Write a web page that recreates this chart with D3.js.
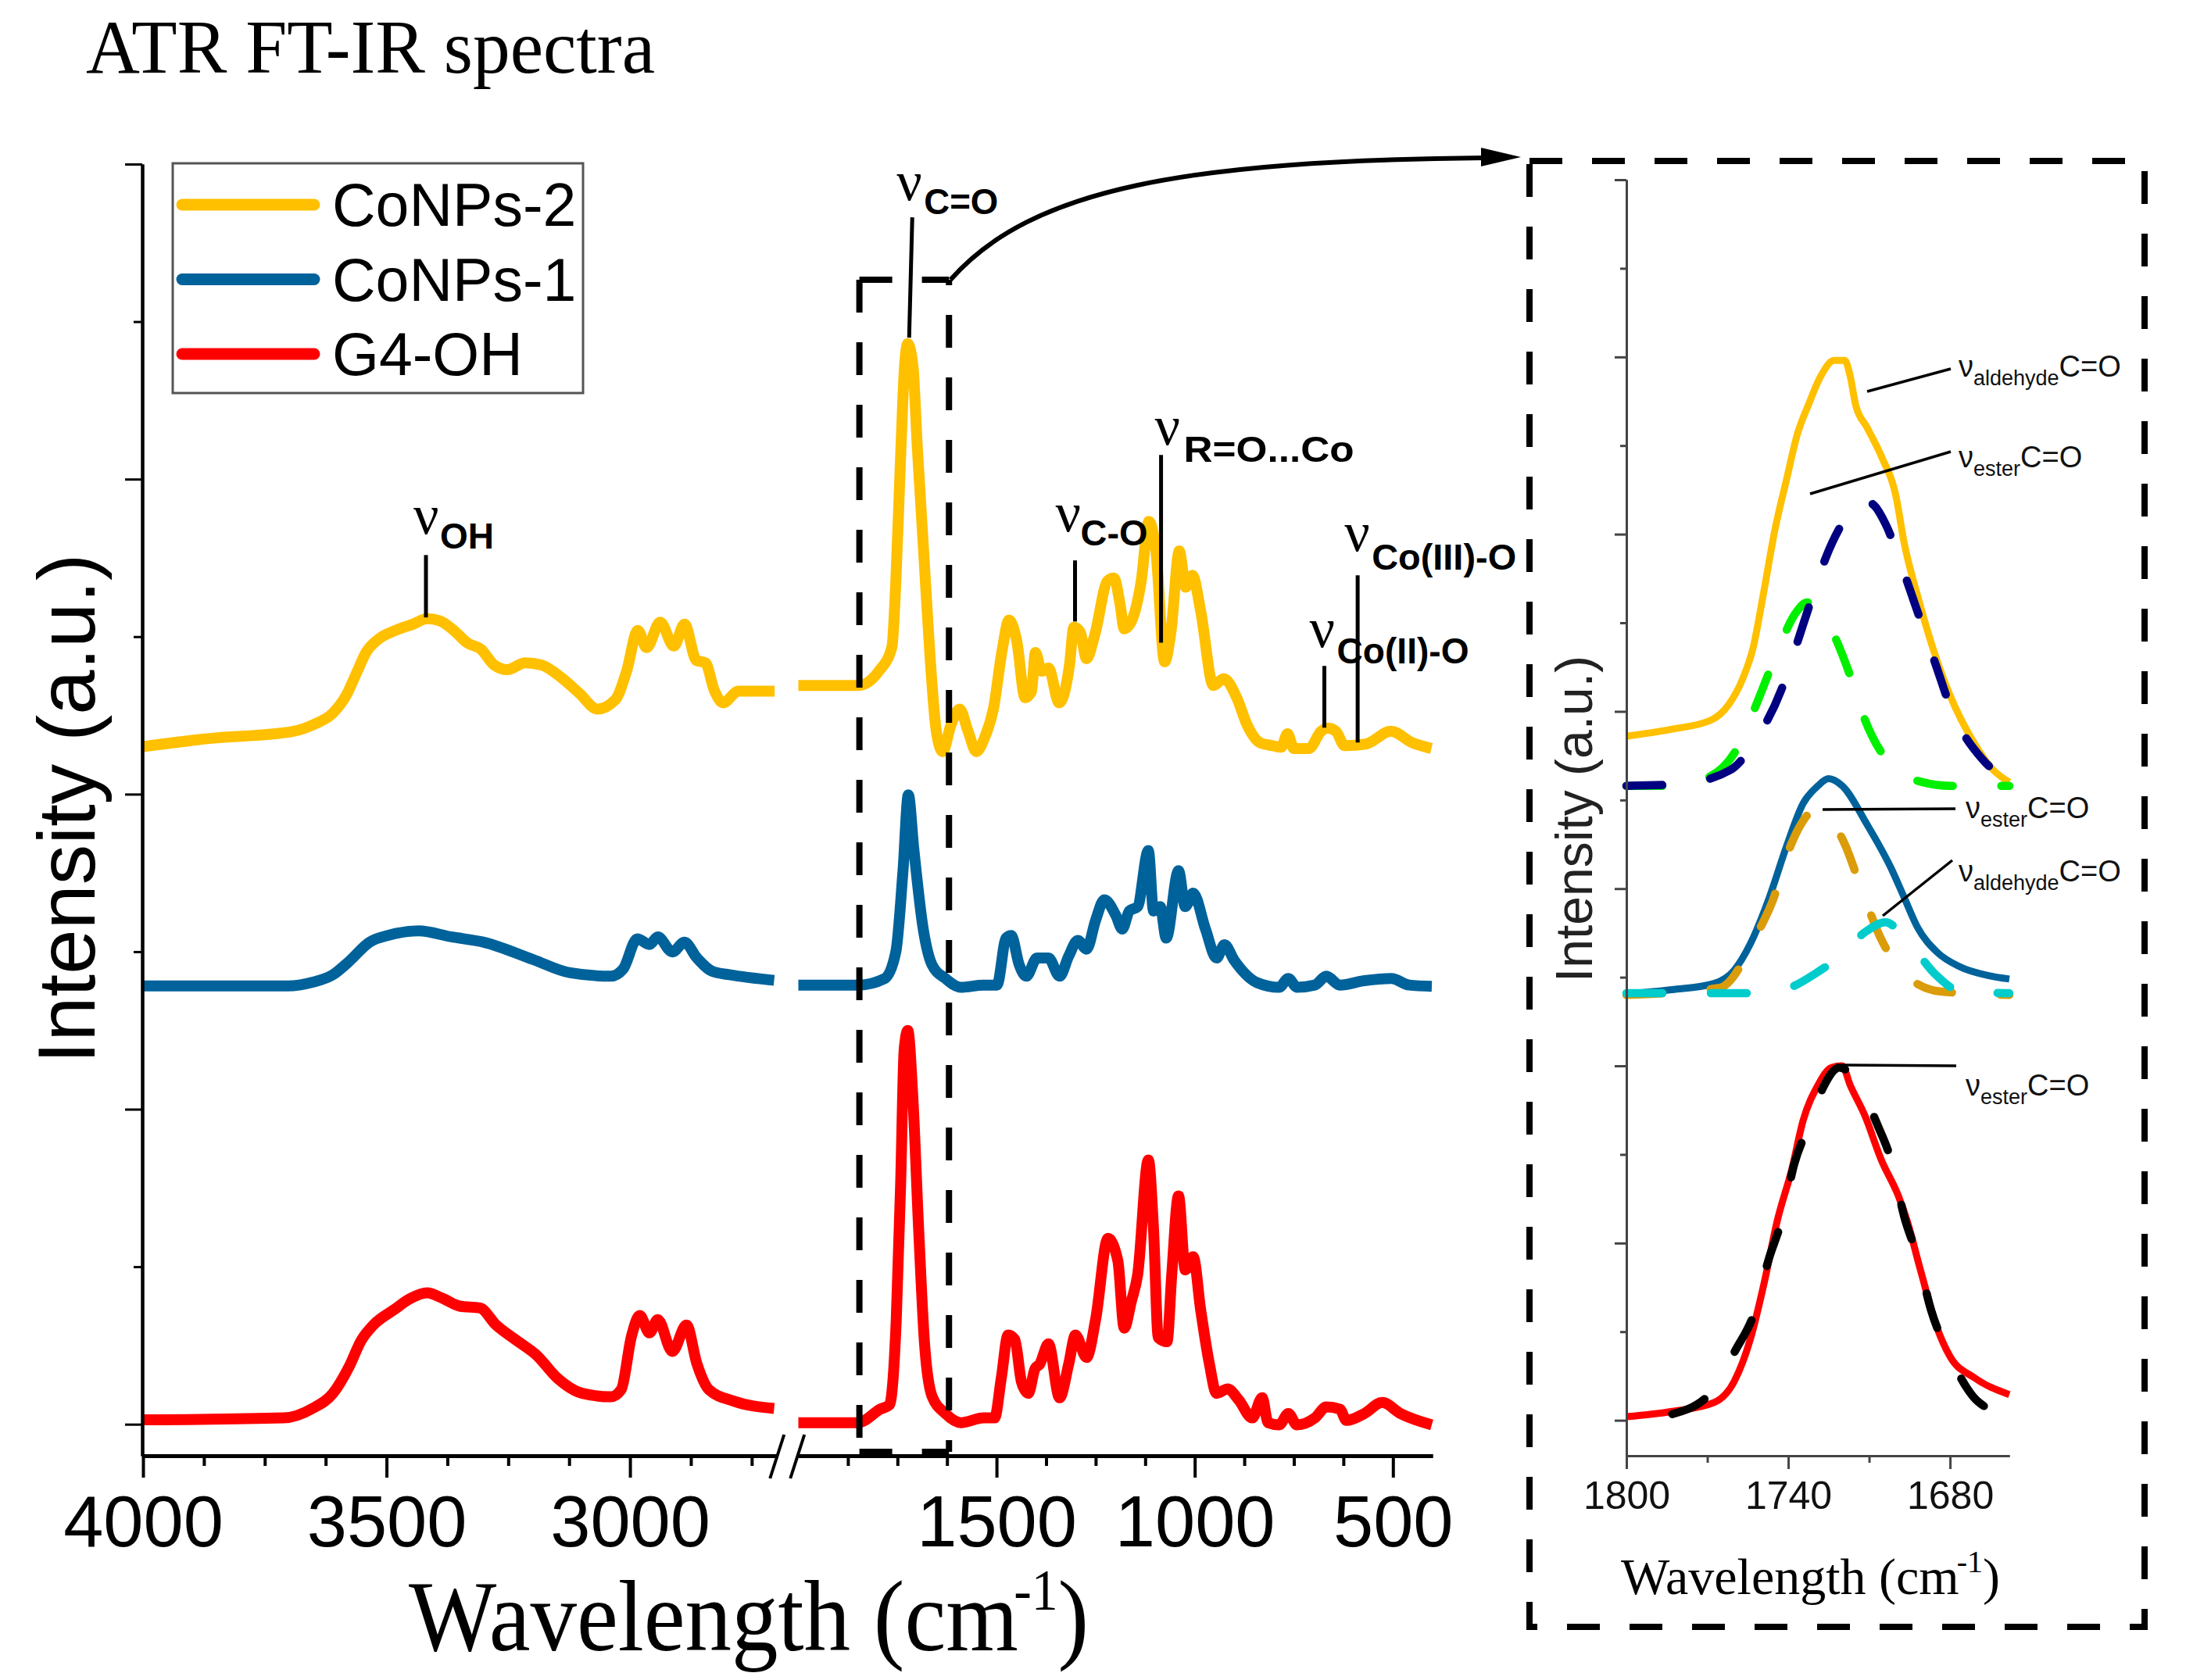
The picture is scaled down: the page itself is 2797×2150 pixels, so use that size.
<!DOCTYPE html>
<html><head><meta charset="utf-8">
<script src="https://cdn.jsdelivr.net/npm/d3@7"></script>
<style>body{margin:0;background:#fff}</style>
</head><body>
<svg id="c" width="2797" height="2150" xmlns="http://www.w3.org/2000/svg"></svg>
<script>
// ---------------- DATA ----------------
const titleText = "ATR FT-IR spectra";
const seriesNames = ["CoNPs-2", "CoNPs-1", "G4-OH"];
const seriesColors = ["#FFC000", "#00629B", "#FF0000"];

const xMajorLeft = [4000, 3500, 3000];
const xMinorLeft = [3875, 3750, 3625, 3375, 3250, 3125, 2875, 2750];
const xMajorRight = [1500, 1000, 500];
const xMinorRight = [1875, 1750, 1625, 1375, 1250, 1125, 875, 750, 625];
const yMajor = [0, 1, 2, 3, 4];
const yMinor = [0.5, 1.5, 2.5, 3.5];

const insetXMajor = [1800, 1740, 1680];
const insetXMinor = [1770, 1710];
const insetYMajor = [0, 1, 2, 3, 4, 5, 6, 7];
const insetYMinor = [0.5, 1.5, 2.5, 3.5, 4.5, 5.5, 6.5];

// CoNPs-2 (offset)
const conps2Left = [[4000,2.151],[3868,2.176],[3693,2.199],[3647,2.223],[3611,2.256],[3583,2.313],[3560,2.39],[3542,2.45],[3518,2.49],[3481,2.52],[3445,2.54],[3417,2.557],[3390,2.55],[3362,2.52],[3334,2.48],[3306,2.46],[3279,2.41],[3252,2.395],[3215,2.417],[3182,2.41],[3141,2.37],[3104,2.32],[3067,2.27],[3030,2.30],[3007,2.39],[2984,2.52],[2966,2.465],[2938,2.546],[2910,2.47],[2888,2.54],[2864,2.425],[2845,2.417],[2827,2.33],[2809,2.29],[2777,2.327],[2703,2.327]];
const conps2Right = [[2000,2.345],[1849,2.345],[1796,2.392],[1764,2.467],[1754,2.677],[1742.5,3.056],[1732,3.36],[1724,3.43],[1711,3.36],[1700,3.104],[1684,2.772],[1668,2.44],[1652,2.20],[1636,2.135],[1615,2.22],[1593,2.27],[1572,2.20],[1551,2.135],[1530,2.18],[1508,2.27],[1486,2.456],[1468.5,2.553],[1449,2.486],[1428,2.306],[1412,2.325],[1402,2.45],[1386,2.39],[1369,2.40],[1342,2.29],[1316,2.41],[1305,2.53],[1289,2.515],[1273,2.43],[1252,2.507],[1220,2.677],[1204,2.686],[1188,2.60],[1178,2.525],[1162,2.543],[1135,2.677],[1116,2.866],[1098,2.772],[1076,2.42],[1060,2.515],[1039,2.772],[1023,2.657],[1006,2.695],[985,2.581],[953,2.345],[927,2.367],[894,2.306],[868,2.22],[836,2.164],[804,2.154],[782,2.149],[766,2.192],[750,2.145],[712,2.145],[681,2.20],[665,2.21],[644,2.20],[622,2.154],[569,2.159],[505,2.20],[452,2.164],[403,2.145]];

// CoNPs-1 (offset)
const conps1Left = [[4000,1.391],[3703,1.391],[3652,1.403],[3610,1.427],[3577,1.469],[3535,1.53],[3493,1.553],[3434,1.566],[3367,1.547],[3300,1.53],[3199,1.475],[3123,1.433],[3039,1.422],[3014,1.445],[2985,1.541],[2960,1.523],[2943,1.547],[2913,1.499],[2888,1.53],[2863,1.481],[2830,1.437],[2796,1.427],[2704,1.409]];
const conps1Right = [[2000,1.394],[1849,1.394],[1782,1.415],[1754,1.50],[1736,1.757],[1722.5,1.998],[1709,1.829],[1685,1.572],[1663,1.459],[1629,1.415],[1590,1.387],[1533,1.394],[1499,1.394],[1476,1.543],[1463,1.551],[1443,1.459],[1425,1.422],[1398,1.48],[1369,1.48],[1341,1.422],[1318,1.486],[1295,1.536],[1273,1.508],[1250,1.60],[1228,1.665],[1199,1.615],[1183,1.572],[1165,1.629],[1144,1.643],[1117,1.821],[1104,1.629],[1087,1.643],[1072,1.543],[1041,1.757],[1024,1.643],[1004,1.686],[973,1.572],[945,1.48],[925,1.522],[900,1.472],[843,1.402],[787,1.387],[764,1.415],[742,1.387],[697,1.394],[668,1.422],[634,1.394],[572,1.408],[504,1.415],[459,1.394],[402,1.39]];

// G4-OH
const g4Left = [[4000,0.014],[3711,0.02],[3652,0.05],[3610,0.098],[3577,0.182],[3552,0.266],[3527,0.315],[3485,0.363],[3451,0.399],[3417,0.417],[3384,0.399],[3350,0.375],[3308,0.369],[3275,0.315],[3233,0.266],[3191,0.218],[3149,0.146],[3098,0.098],[3039,0.087],[3018,0.11],[2997,0.279],[2980,0.345],[2960,0.29],[2943,0.332],[2913,0.231],[2884,0.315],[2863,0.194],[2838,0.11],[2788,0.074],[2704,0.05]];
const g4Right = [[2000,0.005],[1849,0.005],[1793,0.048],[1770,0.062],[1753,0.333],[1742,0.76],[1733,1.19],[1724,1.25],[1711.5,1.045],[1696.5,0.618],[1682,0.262],[1663,0.09],[1629,0.034],[1590,0.005],[1533,0.02],[1505,0.02],[1488,0.147],[1471,0.283],[1454,0.269],[1437,0.134],[1420,0.098],[1403,0.176],[1391,0.191],[1369,0.255],[1341,0.084],[1318,0.191],[1301,0.283],[1273,0.212],[1250,0.333],[1219,0.59],[1194,0.519],[1178,0.305],[1160,0.39],[1144,0.475],[1117,0.839],[1104,0.618],[1092,0.275],[1070,0.262],[1058,0.475],[1041,0.725],[1024,0.49],[1004,0.532],[985,0.362],[963,0.191],[945,0.098],[917,0.112],[889,0.077],[855,0.02],[830,0.084],[815,0.005],[787,-0.002],[764,0.034],[742,-0.002],[697,0.02],[668,0.055],[634,0.048],[617,0.012],[572,0.034],[527,0.069],[481,0.034],[402,-0.002]];

// Inset (1800-1660 cm-1) data
const conps2Inset = [[1800,3.86],[1783,3.90],[1768.7,3.95],[1762,4.04],[1757,4.18],[1753,4.36],[1749,4.68],[1745,5.02],[1740.6,5.31],[1736.5,5.57],[1732.5,5.73],[1728,5.89],[1723,5.98],[1719,5.98],[1717,5.89],[1715,5.73],[1710.7,5.60],[1705.5,5.44],[1700,5.21],[1697,4.95],[1692,4.65],[1686,4.34],[1680,4.09],[1671,3.82],[1664,3.67],[1658,3.60]];
const esterFit2 = [[1800,3.58],[1783,3.58],[1770.7,3.62],[1759,3.79],[1751,4.07],[1745,4.30],[1737,4.56],[1733,4.615],[1729,4.585],[1724.6,4.48],[1717,4.20],[1712,3.97],[1700,3.67],[1690,3.60],[1680,3.58],[1658,3.58]];
const aldFit2 = [[1800,3.58],[1780,3.59],[1761.4,3.67],[1751.6,3.85],[1742.6,4.12],[1737.7,4.34],[1731,4.65],[1726,4.87],[1720,5.06],[1715.4,5.16],[1712,5.19],[1708,5.16],[1704,5.06],[1697,4.78],[1692,4.56],[1685,4.25],[1680,4.03],[1668,3.73],[1658,3.61]];
const conps1Inset = [[1800,2.405],[1783,2.43],[1767.5,2.465],[1760,2.54],[1754,2.69],[1747,2.95],[1740.6,3.24],[1734.5,3.48],[1729,3.58],[1725,3.62],[1720,3.58],[1710.7,3.36],[1702,3.12],[1697,2.95],[1692,2.78],[1684.7,2.64],[1676.5,2.56],[1666,2.51],[1658,2.49]];
const esterFit1 = [[1800,2.40],[1765.5,2.44],[1751,2.76],[1745.8,2.93],[1739.7,3.22],[1735,3.37],[1730.4,3.44],[1725,3.40],[1719,3.25],[1713.6,3.03],[1706,2.73],[1697.7,2.53],[1683.7,2.42],[1658,2.40]];
const aldFit1 = [[1800,2.41],[1750,2.41],[1738,2.45],[1730,2.52],[1721.5,2.61],[1711,2.76],[1704,2.81],[1695,2.69],[1685,2.51],[1676,2.42],[1658,2.41]];
const g4Inset = [[1800,0.02],[1783,0.05],[1767.5,0.10],[1760,0.22],[1754,0.46],[1749,0.77],[1744,1.13],[1738.6,1.42],[1734.5,1.69],[1729,1.89],[1724,1.99],[1720,2.0],[1717,1.89],[1711.6,1.72],[1705.5,1.47],[1699,1.26],[1696,1.13],[1691,0.85],[1685,0.53],[1680,0.36],[1671,0.24],[1658,0.145]];
const g4Fit = [[1783,0.035],[1768.7,0.155],[1759.4,0.40],[1753,0.59],[1747,0.92],[1742.6,1.12],[1737.7,1.45],[1732.5,1.66],[1727,1.88],[1721,1.99],[1715,1.92],[1707,1.67],[1701.7,1.46],[1697,1.15],[1692,0.92],[1687,0.62],[1680.6,0.38],[1669.6,0.105],[1659,0.035]];

// ---------------- DRAW ----------------
const SERIF = "'Liberation Serif','Times New Roman',serif";
const SANS = "'Liberation Sans',Arial,Helvetica,sans-serif";
const svg = d3.select("#c");
svg.append("rect").attr("width",2797).attr("height",2150).attr("fill","#fff");

// title
svg.append("text").attr("x",110).attr("y",93)
  .attr("font-family",SERIF).attr("font-size",98)
  .attr("textLength",728).attr("lengthAdjust","spacingAndGlyphs")
  .text(titleText);

// main scales (broken axis)
const xL = d3.scaleLinear().domain([4000,2700]).range([183,993]);
const xR = d3.scaleLinear().domain([2000,400]).range([1021.5,1833]);
const y = d3.scaleLinear().domain([-0.1,4]).range([1863,210]);

// spectra
const lineL = d3.line().x(d=>xL(d[0])).y(d=>y(d[1])).curve(d3.curveMonotoneX);
const lineR = d3.line().x(d=>xR(d[0])).y(d=>y(d[1])).curve(d3.curveMonotoneX);
const mainSeries = [[conps2Left,conps2Right],[conps1Left,conps1Right],[g4Left,g4Right]];
const gSpec = svg.append("g");
mainSeries.forEach((s,i)=>{
  gSpec.append("path").attr("d",lineL(s[0])).attr("fill","none").attr("stroke",seriesColors[i])
    .attr("stroke-width",14).attr("stroke-linejoin","round");
  gSpec.append("path").attr("d",lineR(s[1])).attr("fill","none").attr("stroke",seriesColors[i])
    .attr("stroke-width",14).attr("stroke-linejoin","round");
});

// axes
function styleAxis(g, sw){
  g.selectAll("path.domain").attr("stroke","#000").attr("stroke-width",sw);
  g.selectAll(".tick line").attr("stroke","#000").attr("stroke-width",sw-1);
}
const gx = svg.append("g").attr("transform","translate(0,1863)");
[[xL,xMajorLeft,xMinorLeft],[xR,xMajorRight,xMinorRight]].forEach(([sc,maj,min])=>{
  const a = gx.append("g").call(d3.axisBottom(sc).tickValues(min).tickSize(13).tickSizeOuter(0).tickFormat(""));
  styleAxis(a,5);
  const b = gx.append("g").call(d3.axisBottom(sc).tickValues(maj).tickSize(28).tickSizeOuter(0).tickPadding(23).tickFormat(d3.format("d")));
  styleAxis(b,5);
  b.selectAll(".tick text").attr("font-family",SANS).attr("font-size",92).attr("fill","#000");
});
const gy = svg.append("g").attr("transform","translate(182,0)");
{
  const a = gy.append("g").call(d3.axisLeft(y).tickValues(yMinor).tickSize(11).tickSizeOuter(0).tickFormat(""));
  styleAxis(a,4);
  const b = gy.append("g").call(d3.axisLeft(y).tickValues(yMajor).tickSize(22).tickSizeOuter(0).tickFormat(""));
  styleAxis(b,4);
}
// axis break marks
const bx = (xL(2700)+xR(2000))/2;
svg.append("polygon").attr("points",`${bx-22},1892 ${bx-4},1836 ${bx+22},1836 ${bx+4},1892`).attr("fill","#fff");
[-13,13].forEach(o=>{
  svg.append("line").attr("x1",bx+o-9).attr("y1",1892).attr("x2",bx+o+9).attr("y2",1836)
    .attr("stroke","#000").attr("stroke-width",4);
});

// axis titles
const xt = svg.append("text").attr("transform","translate(523,2112) scale(0.915,1)")
  .attr("font-family",SERIF).attr("font-size",130);
xt.append("tspan").text("Wavelength (cm");
xt.append("tspan").attr("font-size",74).attr("dx",-6).attr("dy",-52).text("-1");
xt.append("tspan").attr("font-size",130).attr("dy",52).text(")");

svg.append("text").attr("transform","translate(121,1035) rotate(-90)")
  .attr("text-anchor","middle").attr("font-family",SANS).attr("font-size",103).text("Intensity (a.u.)");

// legend
const lg = svg.append("g");
lg.append("rect").attr("x",221).attr("y",209).attr("width",525).attr("height",294)
  .attr("fill","#fff").attr("stroke","#555").attr("stroke-width",3);
seriesNames.forEach((n,i)=>{
  const ly = 262 + i*95.5;
  lg.append("line").attr("x1",233).attr("x2",402).attr("y1",ly).attr("y2",ly)
    .attr("stroke",seriesColors[i]).attr("stroke-width",15).attr("stroke-linecap","round");
  lg.append("text").attr("x",425).attr("y",ly+27).attr("font-family",SANS).attr("font-size",77).text(n);
});

// annotations (main)
const annMain = [
  {sc:xL, v:3419, v2:3419, uTop:2.759, uBot:2.561, nx:-16, ny:-27, sub:"OH", sx:18, sy:-8, w:69},
  {sc:xR, v:1712.6, v2:1720.5, uTop:3.831, uBot:3.449, nx:-20, ny:-22, sub:"C=O", sx:15, sy:-4, w:95},
  {sc:xR, v:1302, v2:1302, uTop:2.742, uBot:2.548, nx:-25, ny:-37, sub:"C-O", sx:7, sy:-19, w:86},
  {sc:xR, v:1085, v2:1085, uTop:3.077, uBot:2.481, nx:-8, ny:-13, sub:"R=O...Co", sx:29, sy:9, w:218},
  {sc:xR, v:589, v2:589, uTop:2.695, uBot:2.164, nx:-17, ny:-31, sub:"Co(III)-O", sx:18, sy:-7, w:185},
  {sc:xR, v:673, v2:673, uTop:2.407, uBot:2.211, nx:-19, ny:-24, sub:"Co(II)-O", sx:16, sy:-3, w:169}
];
const ga = svg.append("g");
annMain.forEach(a=>{
  const x1 = a.sc(a.v), x2 = a.sc(a.v2), y1 = y(a.uTop), y2 = y(a.uBot);
  ga.append("line").attr("x1",x1).attr("y1",y1).attr("x2",x2).attr("y2",y2).attr("stroke","#000").attr("stroke-width",5);
  ga.append("text").attr("x",x1+a.nx).attr("y",y1+a.ny).attr("font-family",SERIF).attr("font-size",72).text("ν");
  ga.append("text").attr("x",x1+a.sx).attr("y",y1+a.sy).attr("font-family",SANS).attr("font-weight","bold").attr("font-size",46)
    .attr("textLength",a.w).attr("lengthAdjust","spacingAndGlyphs").text(a.sub);
});

// zoom box + arrow
const bxL = xR(1846), bxR = xR(1620), byT = y(3.633), byB = 1858;
const dash = "42,38";
const gb = svg.append("g").attr("fill","none").attr("stroke","#000").attr("stroke-width",8);
gb.append("path").attr("d",`M${bxL},${byT}H${bxR}`).attr("stroke-dasharray",dash);
gb.append("path").attr("d",`M${bxL},${byT}V${byB}`).attr("stroke-dasharray",dash);
gb.append("path").attr("d",`M${bxR},${byT}V${byB}`).attr("stroke-dasharray",dash).attr("stroke-dashoffset",35);
gb.append("path").attr("d",`M${bxL},${byB}H${bxR}`).attr("stroke-dasharray",dash);
svg.append("path").attr("d",`M${bxR+2},${byT} C1320,240 1520,206 1900,202`).attr("fill","none").attr("stroke","#000").attr("stroke-width",6);
svg.append("polygon").attr("points","1946,201 1895,189 1895,213").attr("fill","#000");

// inset frame
svg.append("rect").attr("x",1957).attr("y",206).attr("width",787).attr("height",1876)
  .attr("fill","none").attr("stroke","#000").attr("stroke-width",8).attr("stroke-dasharray",dash);

// inset scales
const xi = d3.scaleLinear().domain([1800,1658]).range([2081,2571]);
const yi = d3.scaleLinear().domain([-0.2,7]).range([1863,230]);
const lineI = d3.line().x(d=>xi(d[0])).y(d=>yi(d[1])).curve(d3.curveMonotoneX);

const gi = svg.append("g");
const insetLines = [
  {d:conps2Inset, c:"#FFC000", dash:null},
  {d:esterFit2, c:"#00F000", dash:"46,62"},
  {d:aldFit2, c:"#000080", dash:"46,62"},
  {d:conps1Inset, c:"#00629B", dash:null},
  {d:esterFit1, c:"#DB9C0A", dash:"46,62"},
  {d:aldFit1, c:"#00CCCC", dash:"46,62"},
  {d:g4Inset, c:"#FF0000", dash:null},
  {d:g4Fit, c:"#000000", dash:"46,72"}
];
insetLines.forEach(l=>{
  const p = gi.append("path").attr("d",lineI(l.d)).attr("fill","none").attr("stroke",l.c)
    .attr("stroke-width", l.dash ? 10.5 : 9).attr("stroke-linejoin","round");
  if(l.dash) p.attr("stroke-dasharray",l.dash).attr("stroke-linecap","round");
});

// inset axes
function styleInset(g){
  g.selectAll("path.domain").attr("stroke","#444").attr("stroke-width",3);
  g.selectAll(".tick line").attr("stroke","#444").attr("stroke-width",3);
}
const gix = svg.append("g").attr("transform","translate(0,1863)");
{
  const a = gix.append("g").call(d3.axisBottom(xi).tickValues(insetXMinor).tickSize(9).tickSizeOuter(0).tickFormat(""));
  styleInset(a);
  const b = gix.append("g").call(d3.axisBottom(xi).tickValues(insetXMajor).tickSize(17).tickSizeOuter(0).tickPadding(15).tickFormat(d3.format("d")));
  styleInset(b);
  b.selectAll(".tick text").attr("font-family",SANS).attr("font-size",50).attr("fill","#111");
}
const giy = svg.append("g").attr("transform","translate(2081,0)");
{
  const a = giy.append("g").call(d3.axisLeft(yi).tickValues(insetYMinor).tickSize(8).tickSizeOuter(0).tickFormat(""));
  styleInset(a);
  const b = giy.append("g").call(d3.axisLeft(yi).tickValues(insetYMajor).tickSize(15).tickSizeOuter(0).tickFormat(""));
  styleInset(b);
}
const xit = svg.append("text").attr("transform","translate(2074,2040)")
  .attr("font-family",SERIF).attr("font-size",66);
xit.append("tspan").text("Wavelength (cm");
xit.append("tspan").attr("font-size",40).attr("dx",-3).attr("dy",-28).text("-1");
xit.append("tspan").attr("font-size",66).attr("dy",28).text(")");
svg.append("text").attr("transform","translate(2037,1048) rotate(-90)")
  .attr("text-anchor","middle").attr("font-family",SANS).attr("font-size",66).attr("fill","#222").text("Intensity (a.u.)");

// inset annotations
const annInset = [
  {x1:2389,y1:501,x2:2496,y2:472, tx:2506, ty:482, sub:"aldehyde"},
  {x1:2316,y1:632,x2:2496,y2:578, tx:2506, ty:598, sub:"ester"},
  {x1:2332,y1:1036,x2:2502,y2:1035, tx:2515, ty:1047, sub:"ester"},
  {x1:2409,y1:1172,x2:2498,y2:1101, tx:2506, ty:1128, sub:"aldehyde"},
  {x1:2358,y1:1363,x2:2503,y2:1364, tx:2515, ty:1402, sub:"ester"}
];
annInset.forEach(a=>{
  svg.append("line").attr("x1",a.x1).attr("y1",a.y1).attr("x2",a.x2).attr("y2",a.y2).attr("stroke","#000").attr("stroke-width",3.5);
  const t = svg.append("text").attr("x",a.tx).attr("y",a.ty).attr("font-family",SANS).attr("font-size",38).attr("fill","#111");
  t.append("tspan").text("ν");
  t.append("tspan").attr("font-size",27).attr("dy",11).text(a.sub);
  t.append("tspan").attr("font-size",38).attr("dy",-11).text("C=O");
});
</script>
</body></html>
